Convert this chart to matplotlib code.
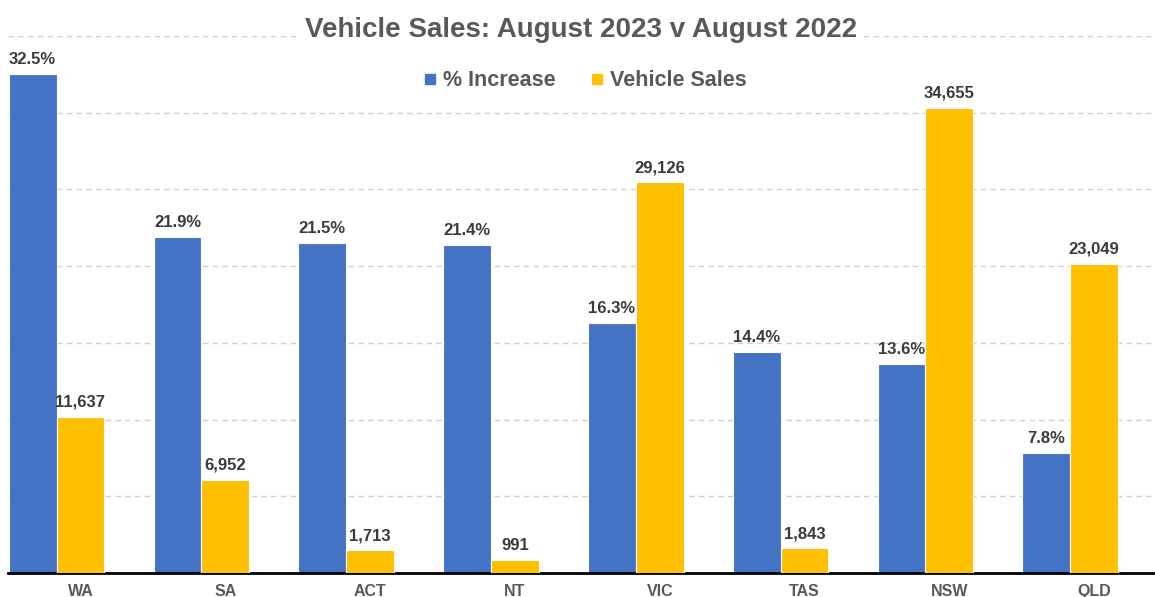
import numpy as np
import matplotlib.pyplot as plt
from matplotlib.lines import Line2D

plt.rcParams['font.family'] = ['Liberation Sans', 'DejaVu Sans']

states = ['WA', 'SA', 'ACT', 'NT', 'VIC', 'TAS', 'NSW', 'QLD']
pct_increase = [32.5, 21.9, 21.5, 21.4, 16.3, 14.4, 13.6, 7.8]
vehicle_sales = [11637, 6952, 1713, 991, 29126, 1843, 34655, 23049]

BLUE = '#4472C4'
GOLD = '#FFC000'
GREY = '#595959'
DARK = '#3a3a3a'

W, H = 1155, 597
fig = plt.figure(figsize=(W / 100, H / 100), dpi=100)
ax = fig.add_axes([8 / W, (H - 573) / H, (W - 8) / W, (573 - 36) / H])
ax2 = ax.twinx()

x = np.arange(len(states))
bw = 0.33

b1 = ax.bar(x - bw, pct_increase, bw, color=BLUE, edgecolor='white',
            linewidth=0.8, zorder=2)
b2 = ax2.bar(x, vehicle_sales, bw, color=GOLD, edgecolor='white',
             linewidth=0.8, zorder=2)

ax.set_xlim(-0.5, 7.42)
ax.set_ylim(0, 35)
ax2.set_ylim(0, 40000)

ax.set_yticks(np.arange(5, 36, 5))
ax.yaxis.grid(True, color='#cfcfcf', linestyle=(0, (4, 3)), linewidth=1)
ax.set_axisbelow(True)
ax.tick_params(axis='y', left=False, labelleft=False)
ax2.tick_params(axis='y', right=False, labelright=False)

for a in (ax, ax2):
    for s in ('top', 'left', 'right'):
        a.spines[s].set_visible(False)
ax.spines['bottom'].set_color('black')
ax.spines['bottom'].set_linewidth(2)
ax2.spines['bottom'].set_visible(False)

ax.set_xticks(x)
ax.set_xticklabels(states, fontsize=11.5, fontweight='bold', color=GREY)
ax.tick_params(axis='x', length=0, pad=8)

for rect, v in zip(b1, pct_increase):
    ax.annotate(f'{v}%', (rect.get_x() + rect.get_width() / 2, v),
                xytext=(0, 5), textcoords='offset points', ha='center',
                va='bottom', fontsize=12, fontweight='bold', color=DARK)
for rect, v in zip(b2, vehicle_sales):
    ax2.annotate(f'{v:,}', (rect.get_x() + rect.get_width() / 2, v),
                 xytext=(0, 5), textcoords='offset points', ha='center',
                 va='bottom', fontsize=12, fontweight='bold', color=DARK)

fig.text(581 / W, 1 - 30 / H, 'Vehicle Sales: August 2023 v August 2022',
         ha='center', va='center', fontsize=20, fontweight='bold', color=GREY,
         bbox=dict(facecolor='white', edgecolor='none', pad=4), zorder=5)

handles = [Line2D([], [], marker='s', linestyle='none', markersize=7,
                  color=BLUE),
           Line2D([], [], marker='s', linestyle='none', markersize=7,
                  color=GOLD)]
fig.legend(handles, ['% Increase', 'Vehicle Sales'], loc='center',
           bbox_to_anchor=(585 / W, 1 - 81 / H), ncol=2, frameon=False,
           handlelength=0.6, handletextpad=0.3, columnspacing=1.6,
           prop={'size': 15.5, 'weight': 'bold'}, labelcolor=GREY)

fig.savefig('out.png', dpi=100)
